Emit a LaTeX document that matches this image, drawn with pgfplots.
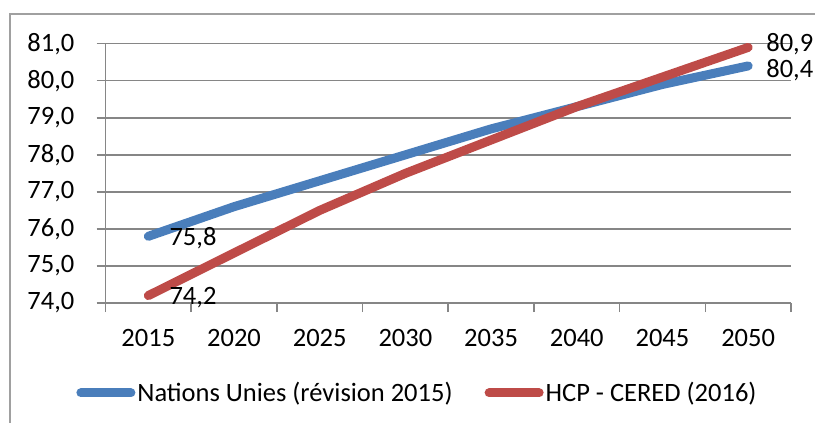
\documentclass[border=0pt]{standalone}
\usepackage{fontspec}
\setmainfont{Carlito}
\usepackage{pgfplots}
\pgfplotsset{compat=1.18}
\definecolor{unblue}{HTML}{4A7EBB}
\definecolor{hcpred}{HTML}{BE4B48}
\definecolor{gridgray}{HTML}{868686}
\definecolor{framegray}{HTML}{A0A0A0}
\begin{document}
\begin{tikzpicture}[font=\fontsize{26.5bp}{31bp}\selectfont]
\path[use as bounding box] (0,0) rectangle (815bp,423bp);
\draw[framegray, line width=1.5bp] (10bp,0bp) -- (10bp,409bp) -- (815bp,409bp);
\begin{axis}[
  at={(105.5bp,120bp)}, anchor=south west,
  scale only axis, width=685.5bp, height=259.3bp,
  xmin=-0.5, xmax=7.5, ymin=74, ymax=81,
  axis x line=bottom, axis y line=left,
  axis line style={-, draw=gridgray, line width=1.5bp},
  xtick={0,...,7},
  xticklabels={2015,2020,2025,2030,2035,2040,2045,2050},
  minor xtick={-0.5,0.5,...,7.5},
  major x tick style={draw=none},
  minor x tick style={draw=gridgray, line width=1.5bp},
  ytick={74,75,...,81},
  ytick style={draw=gridgray, line width=1.5bp},
  tick align=outside,
  major tick length=9bp, minor tick length=9bp,
  ymajorgrids,
  grid style={draw=gridgray, line width=1.5bp},
  yticklabel style={/pgf/number format/fixed, /pgf/number format/fixed zerofill,
    /pgf/number format/precision=1, /pgf/number format/use comma,
    /pgf/number format/assume math mode=true,
    anchor=east, inner sep=0pt, xshift=-22bp},
  xticklabel style={anchor=base, inner sep=0pt, yshift=-34bp},
  legend style={draw=none, fill=none, at={(0.4551,-0.347)}, anchor=center,
    legend columns=2, font=\fontsize{26.5bp}{31bp}\selectfont,
    /tikz/every even column/.append style={column sep=30bp}},
  legend image code/.code={\draw[#1, line cap=round] (0bp,0bp) -- (50bp,0bp);},
  clip=false,
]
\addplot[unblue, line width=9bp, line cap=round, line join=round] coordinates {
 (0,75.8) (1,76.6) (2,77.3) (3,78.0) (4,78.7) (5,79.3) (6,79.9) (7,80.4)};
\addlegendentry{Nations Unies (révision 2015)}
\addplot[hcpred, line width=9bp, line cap=round, line join=round] coordinates {
 (0,74.2) (1,75.35) (2,76.5) (3,77.5) (4,78.4) (5,79.3) (6,80.1) (7,80.9)};
\addlegendentry{HCP - CERED (2016)}
\addplot[draw=none, forget plot, nodes near coords, point meta=explicit symbolic,
  every node near coord/.style={anchor=west, inner sep=0pt, xshift=21bp, yshift=-2bp, black}]
  coordinates {(0,75.8)[75,8] (0,74.2)[74,2]};
\addplot[draw=none, forget plot, nodes near coords, point meta=explicit symbolic,
  every node near coord/.style={anchor=west, inner sep=0pt, xshift=18bp, yshift=3bp, black}]
  coordinates {(7,80.9)[80,9]};
\addplot[draw=none, forget plot, nodes near coords, point meta=explicit symbolic,
  every node near coord/.style={anchor=west, inner sep=0pt, xshift=18bp, yshift=-4bp, black}]
  coordinates {(7,80.4)[80,4]};
\end{axis}
\end{tikzpicture}
\end{document}
